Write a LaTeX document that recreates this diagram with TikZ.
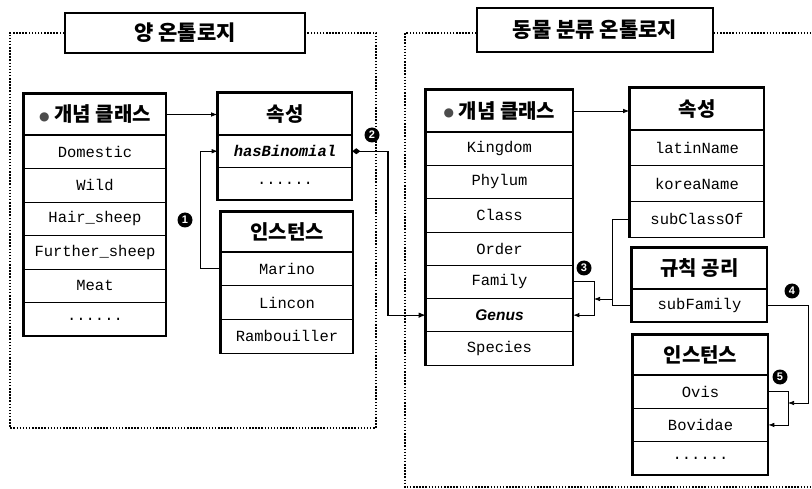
\documentclass[tikz,border=0pt]{standalone}
\usepackage{fontspec}
\setmainfont{Liberation Serif}
\setmonofont{Liberation Mono}
\newfontfamily\kofont{Noto Sans CJK KR}
\newfontfamily\symfont{DejaVu Sans}
\newfontfamily\sansfont{Liberation Sans}
\usetikzlibrary{arrows.meta,positioning}
\newcommand\dotsrow{......}
\newcommand\bul{\raisebox{1.5pt}{\symfont\fontsize{12}{12}\selectfont\color{black!70}●}\ }
\begin{document}
\begin{tikzpicture}[x=1pt,y=-1pt,
  boxframe/.style={draw, line width=1.7pt},
  banner/.style={boxframe, minimum height=40pt, font=\kofont\bfseries\fontsize{21}{21}\selectfont},
  hdr/.style={boxframe, inner sep=0pt, font=\kofont\bfseries\fontsize{20}{20}\selectfont},
  cell/.style={draw, line width=0.6pt, inner sep=0pt, font=\ttfamily\fontsize{15.5}{15.5}\selectfont},
  zone/.style={line width=2pt, dash pattern=on 1.5pt off 1.6pt},
  conn/.style={line width=0.7pt, -{Latex[length=6pt,width=4.5pt]}},
  badge/.style={circle, fill=black, text=white, minimum size=15pt, inner sep=0pt,
    font=\sansfont\bfseries\fontsize{11}{11}\selectfont}]
\useasboundingbox (0,0) rectangle (812,489);
\fill[white] (0,0) rectangle (812,489);

% sheep ontology
\node[banner, minimum width=240pt] (sheep) at (185,33) {양 온톨로지};
\draw[zone] (sheep.west) -- (10,33) -- (10,428) -- (376,428) -- (376,33) -- (sheep.east);

\node[hdr, minimum width=142pt, minimum height=41pt] (sc-h) at (95,114.5) {\bul 개념 클래스};
\foreach \t [count=\i] in {Domestic,Wild,Hair\_sheep,Further\_sheep,Meat,\dotsrow}
  \node[cell, minimum width=142pt, minimum height=33.5pt] (sc-\i) at (95,118.25+33.5*\i) {\t};
\draw[boxframe] (sc-h.north west) rectangle (sc-6.south east);

\node[hdr, minimum width=134pt, minimum height=42pt] (sp-h) at (285,114) {속성};
\node[cell, minimum width=134pt, minimum height=32.5pt] (sp-1) at (285,151.25) {\bfseries\itshape hasBinomial};
\node[cell, minimum width=134pt, minimum height=32.5pt] (sp-2) at (285,183.75) {\dotsrow};
\draw[boxframe] (sp-h.north west) rectangle (sp-2.south east);

\node[hdr, minimum width=132pt, minimum height=40pt] (si-h) at (287,232) {인스턴스};
\foreach \t [count=\i] in {Marino,Lincon,Rambouiller}
  \node[cell, minimum width=132pt, minimum height=33.7pt] (si-\i) at (287,235.15+33.7*\i) {\t};
\draw[boxframe] (si-h.north west) rectangle (si-3.south east);

% animal taxonomy ontology
\node[banner, minimum width=236pt, minimum height=44pt] (taxo) at (595,30) {동물 분류 온톨로지};
\draw[zone] (taxo.west |- 0,33) -- (405,33) -- (405,487) -- (812,487);
\draw[zone] (taxo.east |- 0,33) -- (812,33);

\node[hdr, minimum width=147pt, minimum height=42pt] (tc-h) at (499.5,111) {\bul 개념 클래스};
\foreach \t [count=\i] in {Kingdom,Phylum,Class,Order,Family,{\sansfont\bfseries\itshape Genus},Species}
  \node[cell, minimum width=147pt, minimum height=33.3pt] (tc-\i) at (499.5,115.35+33.3*\i) {\t};
\draw[boxframe] (tc-h.north west) rectangle (tc-7.south east);

\node[hdr, minimum width=134pt, minimum height=42pt] (tp-h) at (697,109) {속성};
\foreach \t [count=\i] in {latinName,koreaName,subClassOf}
  \node[cell, minimum width=134pt, minimum height=35.7pt] (tp-\i) at (697,112.15+35.7*\i) {\t};
\draw[boxframe] (tp-h.north west) rectangle (tp-3.south east);

\node[hdr, minimum width=135pt, minimum height=41pt] (tr-h) at (699.5,268.5) {규칙 공리};
\node[cell, minimum width=135pt, minimum height=33pt] (tr-1) at (699.5,305.5) {subFamily};
\draw[boxframe] (tr-h.north west) rectangle (tr-1.south east);

\node[hdr, minimum width=135pt, minimum height=40pt] (ti-h) at (700.5,355) {인스턴스};
\foreach \t [count=\i] in {Ovis,Bovidae,\dotsrow}
  \node[cell, minimum width=135pt, minimum height=33.3pt] (ti-\i) at (700.5,358.35+33.3*\i) {\t};
\draw[boxframe] (ti-h.north west) rectangle (ti-3.south east);

% links
\coordinate (k1) at (200,0);
\coordinate (k2) at (388,0);
\coordinate (k3) at (612,0);
\coordinate (k3b) at (594,299);
\coordinate (k4) at (808,0);
\coordinate (k4b) at (788,403);

\draw[conn] (sc-h.east) -- (sc-h.east -| sp-h.west);
\draw[conn] (tc-h.east) -- (tc-h.east -| tp-h.west);
\draw[conn] (si-1.west) -- (si-1.west -| k1) |- (sp-1.west);
\draw[line width=1.1pt, {Diamond[length=8pt,width=6pt]}-{Latex[length=7pt,width=5.5pt]}]
  (sp-1.east) -- (sp-1.east -| k2) |- (tc-6.west);
\draw[line width=0.7pt] (tp-3.west) -- (tp-3.west -| k3) |- (tr-1.west);
\draw[conn] (k3 |- k3b) -- (k3b);
\draw[conn] (tc-5.east) -- (tc-5.east -| k3b) |- (tc-6.east);
\draw[conn] (tr-1.east) -- (tr-1.east -| k4) |- (k4b);
\draw[conn] (ti-1.east) -- (ti-1.east -| k4b) |- (ti-2.east);

\node[badge] (n1) at (185,220) {1};
\node[badge] (n2) at (372,135) {2};
\node[badge] (n3) at (584,268) {3};
\node[badge] (n4) at (792,291) {4};
\node[badge] (n5) at (780,377) {5};
\end{tikzpicture}
\end{document}
